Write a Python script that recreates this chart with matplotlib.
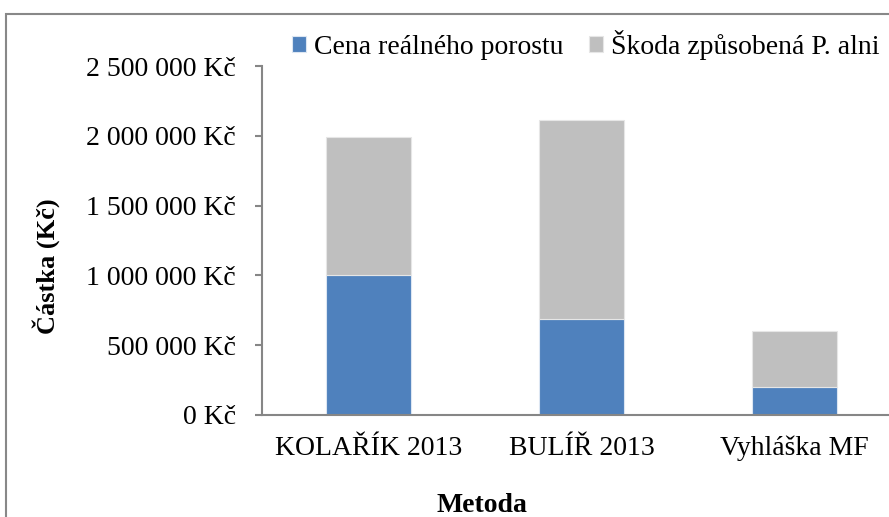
import matplotlib.pyplot as plt
from matplotlib.patches import Rectangle
from matplotlib.ticker import FuncFormatter

methods = ["KOLAŘÍK 2013", "BULÍŘ 2013", "Vyhláška MF"]
stand_price = [1000000, 688000, 200000]
damage = [990000, 1425000, 402000]
series_labels = ["Cena reálného porostu", "Škoda způsobená P. alni"]
colors = ["#4F81BD", "#BFBFBF"]

plt.rcParams["font.family"] = ["Liberation Serif", "DejaVu Serif"]

W, H = 889, 517
dpi = 100
fig = plt.figure(figsize=(W / dpi, H / dpi), dpi=dpi)

# gray chart-area border (only top and left visible in the reference)
fig.patches.append(Rectangle((6 / W, -0.1), 1.2, 1 - 14 / H + 0.1,
                             transform=fig.transFigure, fill=False,
                             edgecolor="#888888", linewidth=1.5))

ax = fig.add_axes([262 / W, (H - 415) / H, (901 - 262) / W, (415 - 66) / H])

x = range(len(methods))
ax.bar(x, stand_price, width=0.4, color=colors[0], edgecolor="#dce6f2",
       linewidth=0.8, label=series_labels[0])
ax.bar(x, damage, width=0.4, bottom=stand_price, color=colors[1],
       edgecolor="#e6e6e6", linewidth=0.8, label=series_labels[1])

ax.set_xlim(-0.5, 2.5)
ax.set_ylim(0, 2500000)
ax.set_yticks(range(0, 2500001, 500000))
ax.yaxis.set_major_formatter(
    FuncFormatter(lambda v, p: f"{int(v):,} Kč".replace(",", " ")))
ax.set_xticks(list(x))
ax.set_xticklabels(methods)

for s in ("top", "right"):
    ax.spines[s].set_visible(False)
for s in ("left", "bottom"):
    ax.spines[s].set_color("#868686")
    ax.spines[s].set_linewidth(1.5)
ax.tick_params(axis="y", length=5, width=1.5, color="#868686",
               labelsize=20, pad=14)
ax.tick_params(axis="x", length=0, labelsize=20, pad=15)

fig.text(46 / W, 1 - 266 / H, "Částka (Kč)", rotation=90, ha="center",
         va="center", fontsize=19, fontweight="bold")
fig.text(482 / W, 1 - 505 / H, "Metoda", ha="center", va="center",
         fontsize=20, fontweight="bold")

fig.legend(loc="center left", bbox_to_anchor=(292 / W, 1 - 45 / H), ncol=2,
           frameon=False, fontsize=20, handlelength=0.5, handleheight=0.5,
           handletextpad=0.3, columnspacing=0.9, borderpad=0, borderaxespad=0)

fig.savefig("out.png", dpi=dpi)
